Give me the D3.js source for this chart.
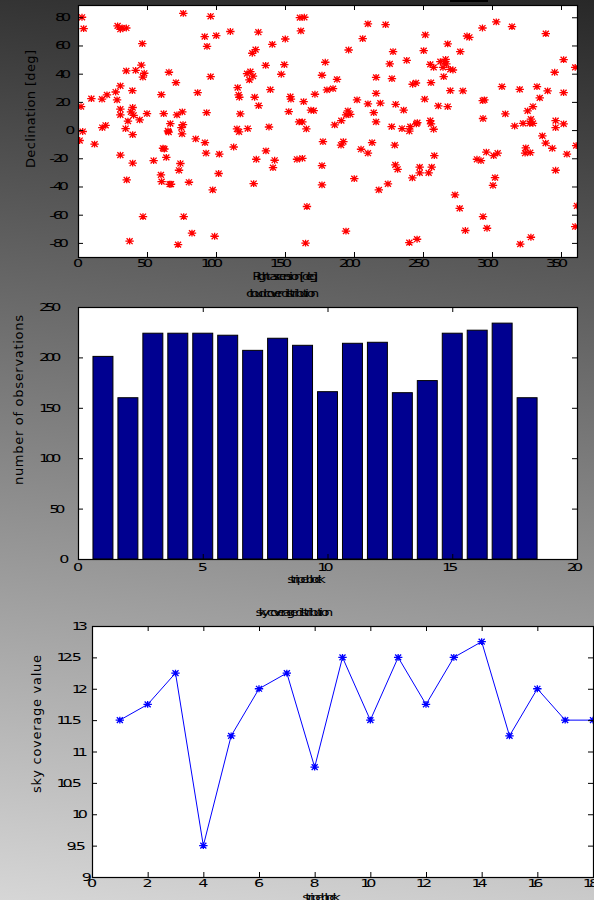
<!DOCTYPE html>
<html>
<head>
<meta charset="utf-8">
<script src="https://cdn.jsdelivr.net/npm/d3@7"></script>
<style>
  html, body { margin: 0; padding: 0; overflow: hidden; }
  svg { display: block; }
</style>
</head>
<body>
<svg id="fig" width="594" height="900"></svg>
<script>
// ---------------------------------------------------------------
// Data
// ---------------------------------------------------------------

// Observed field centres: [right ascension, declination] in degrees
const fieldPositions = [
  [2.9,80.0],[4.1,72],[2.2,16.7],[3.4,-1],[1.2,-7.4],[12,-10],[9.7,22.3],[17.4,22],[21,25],[27.3,27],
  [28.3,21.4],[30.7,31.3],[17.6,1.8],[20,3.4],[28.7,73.9],[30.7,71.5],[32,72.4],[35,72.4],[46.6,61.3],[45.9,46],
  [48,40.3],[47,37.5],[41.8,42.4],[35,42],[39.4,28],[30.7,14.8],[30.7,10.8],[36.2,6.3],[39.6,16],[38.4,12.9],
  [40.3,10.5],[34.5,1.1],[39.6,-3.2],[44.7,7.2],[50,11.7],[30.7,-17.8],[39.6,-23.5],[35.3,-35.3],[47.1,-61.3],[37.4,-78.8],
  [62.1,11.7],[60.4,25.2],[65.9,41],[71,33.7],[76.3,82.8],[75.6,12.9],[71.7,10.8],[66.9,4.6],[65.2,-0.6],[65.7,-1.5],
  [74.9,1.8],[76.1,3.9],[75.4,-2.7],[61.6,-12.9],[62.6,-13.4],[64,-19.3],[54.8,-21.6],[60.1,-31.8],[60.6,-36.5],[66.4,-38.4],
  [67.4,-38.4],[74.2,-23.7],[73.2,-28.5],[80.4,-37],[76.6,-61.3],[82.6,-73.1],[72.5,-81.2],[96.1,80.7],[91.8,66.3],[100.2,67],
  [93.5,59.4],[96.1,37.9],[86.7,26.6],[93.2,12.4],[85.3,-6.3],[92,-8.9],[92.8,-16.4],[102.4,-17.1],[101.9,-30.8],[97.6,-42.4],
  [99,-75.3],[110.4,69.9],[130.7,69.4],[128.7,57.1],[126.3,54.5],[140.8,60.8],[150.2,64.6],[149.5,46.4],[136,45.9],[147.3,39.6],
  [122.5,40],[124.9,41.5],[126.8,38.2],[124.2,35.6],[115.7,30.1],[116.4,24.9],[116.9,23.3],[128,23.3],[139.4,28.7],[130.9,17.4],
  [117.6,11.5],[153.9,23.7],[154.3,22],[152.7,13.1],[115.2,0.8],[116.7,-1.3],[123,1.1],[138.4,2.2],[112.8,-12],[136.2,-14.8],
  [129.2,-20.7],[142.5,-21.4],[141.3,-26.6],[127.3,-37.9],[158.7,-20.7],[160.8,79.8],[161.5,70.3],[160.2,5.8],
  [164,80],[163.5,20.2],[171.7,25.4],[168.8,14.1],[170.8,13.8],[162.6,5.8],[165.5,0.8],[162.6,-20],[165.9,-54.2],[164.9,-80.2],
  [176.8,38.9],[179.2,48.1],[180.4,28.5],[184.8,29.4],[187.7,36],[196.1,56.8],[210.1,75.3],[222.9,74.8],[206.3,64.9],[202.2,21.4],
  [210.1,18.6],[195.6,13.6],[194.3,10.8],[197.3,11.2],[190.8,6.7],[186,3.7],[177.5,-8.2],[192.3,-8.2],[190.6,-10.7],[176.8,-25.2],
  [176.8,-38.9],[200.2,-34.4],[205.1,-13.6],[210.1,-16.4],[213.1,-8.9],[194.2,-71.7],[216,37.4],[216,26.1],[214.3,12.4],[216,5.8],
  [219.1,19.1],[225.9,46.9],[228.3,55.6],[227.5,36.5],[230.2,18.3],[227.3,2.5],[229.5,-10.7],[230,-24.7],[231.6,-27.8],[218,-42.4],
  [224.6,-38.2],[238.2,49.5],[236,14.1],[234.8,1.1],[240.8,2.5],[240.1,-0.8],[245.2,4.4],[245.9,5.3],[242.3,-33.9],[247.6,-26.3],
  [247.6,-30.4],[245.7,-77.4],[240.1,-79.8],[242.5,32.5],[244.9,33.4],[251.7,67.5],[250.5,56.3],[255.3,46.6],[257.7,44.5],[255.8,33.7],
  [251.2,21.9],[255.3,6.7],[255.8,4.4],[257.7,0.6],[258.2,-18.1],[256.3,-26.3],[254.1,-30.4],[261.1,17.1],[264.5,44.5],[265.5,48.5],
  [266.4,50.2],[262.6,48.5],[266.9,46.9],[267.9,61.1],[265,37.9],[269.8,43.1],[271.7,42.6],[267.9,16.7],[269.8,28],[277,55.6],
  [281.9,66.7],[283.6,65.8],[278.9,27.8],[273.2,-46],[276.6,-55.5],[280.7,-71.2],[293.1,72.4],[303.1,76.7],[314.5,73.4],[293.3,20.9],
  [294.5,21.4],[293.5,8.2],[289.1,-20.7],[292,-21.6],[295.9,-15.7],[301.2,-18.1],[304.1,-16.4],[302.2,-33.7],[300.7,-39.2],[293.5,-61.3],
  [296.4,-69.6],[307.2,30.8],[309.7,11.5],[320.1,28.9],[316.4,2.9],[322.5,4.8],[328.2,7.7],[327.3,4.8],[329.7,4.8],[325.8,13.6],
  [329.7,16.7],[334.6,22.8],[332.6,30.8],[340.3,27.8],[324.5,-12.6],[324,-16.4],[327.7,-16],[336.5,-4.1],[338.9,-9.3],[343.7,-12.9],
  [346.1,6.7],[346.1,1.8],[351.9,4.4],[346.1,-28.5],[339,68.4],[351.9,50],[345.4,41],[351.9,26.6],[360.3,44.5],[361,-11],
  [354.3,-17.1],[361.6,-53.8],[360.3,-68.4],[328.2,-76],[320.5,-80.9]
];

// Stripe blocks and their per-block statistics
const stripeBlocks = [1,2,3,4,5,6,7,8,9,10,11,12,13,14,15,16,17,18];
const observationCounts = [201,160,224,224,224,222,207,219,212,166,214,215,165,177,224,227,234,160];
const skyCoverage = [11.5,11.75,12.25,9.5,11.25,12,12.25,10.75,12.5,11.5,12.5,11.75,12.5,12.75,11.25,12,11.5,11.5];

// Tick values
const raTicks = [0,50,100,150,200,250,300,350];
const decTicks = [-80,-60,-40,-20,0,20,40,60,80];
const countTicks = [0,50,100,150,200,250];
const barBlockTicks = [0,5,10,15,20];
const coverageTicks = [9,9.5,10,10.5,11,11.5,12,12.5,13];
const lineBlockTicks = [0,2,4,6,8,10,12,14,16,18];

// Text
const scatterXLabel = "Right ascension [deg]";
const scatterYLabel = "Declination [deg]";
const barTitle = "cloud cover distribution";
const barYLabel = "number of observations";
const blockLabel = "stripe block";
const lineTitle = "sky coverage distribution";
const lineYLabel = "sky coverage value";

// ---------------------------------------------------------------
// Drawing
// ---------------------------------------------------------------
const W = 594, H = 900;
const FONT = "'DejaVu Sans', 'Liberation Sans', sans-serif";
const svg = d3.select("#fig");
const defs = svg.append("defs");

// diagonal grey backdrop
const grad = defs.append("linearGradient").attr("id", "bg")
  .attr("gradientUnits", "userSpaceOnUse")
  .attr("x1", 594).attr("y1", 0).attr("x2", 488).attr("y2", 954);
grad.append("stop").attr("offset", 0).attr("stop-color", "rgb(40,40,40)");
grad.append("stop").attr("offset", 1).attr("stop-color", "rgb(214,214,214)");
svg.append("rect").attr("width", W).attr("height", H).attr("fill", "url(#bg)");
svg.append("rect").attr("x", 450).attr("y", 0).attr("width", 38).attr("height", 2).attr("fill", "#000");

// Text drawn with wide glyphs on a tight advance (the figure's packed lettering)
function packedText(parent, str, x, y, opt) {
  const o = Object.assign({ size: 11, stretch: 1.45, adv: 0.87, layout: 1.45, anchor: "start", weight: "normal" }, opt);
  const t = parent.append("text")
    .attr("font-family", FONT).attr("font-size", o.size).attr("font-weight", o.weight).attr("fill", "#000")
    .text(str);
  const node = t.node();
  const adv = [];
  for (let i = 0; i < str.length; i++) adv.push(node.getSubStringLength(i, 1));
  const total = d3.sum(adv);
  const layoutW = total * o.layout;
  const start = x - (o.anchor === "middle" ? layoutW / 2 : o.anchor === "end" ? layoutW : 0);
  const xs = [];
  let cx = 0;
  for (let i = 0; i < str.length; i++) { xs.push(cx.toFixed(2)); cx += adv[i] * o.adv / o.stretch; }
  t.attr("x", xs.join(" ")).attr("y", 0)
   .attr("transform", `translate(${start},${y}) scale(${o.stretch},1)`);
  return t;
}
const LABEL = { stretch: 1.3, adv: 0.52, layout: 1.25, anchor: "middle" };

function verticalLabel(str, x, yBottom, len) {
  svg.append("text")
    .attr("font-family", FONT).attr("font-size", 13).attr("fill", "#000")
    .attr("transform", `translate(${x},${yBottom}) rotate(-90)`)
    .attr("textLength", len).attr("lengthAdjust", "spacing")
    .text(str);
}

// asterisk marker
function asterisk(cx, cy, rx, ry) {
  const dx = rx * 0.72, dy = ry * 0.85;
  return `M${cx - rx},${cy}H${cx + rx}M${cx},${cy - ry}V${cy + ry}` +
         `M${cx - dx},${cy - dy}L${cx + dx},${cy + dy}M${cx - dx},${cy + dy}L${cx + dx},${cy - dy}`;
}

// white plot area, clip, ticks on all four sides and frame
function makePanel(id, box, x, y, xTicks, yTicks) {
  svg.append("rect").attr("x", box.l).attr("y", box.t)
    .attr("width", box.r - box.l).attr("height", box.b - box.t).attr("fill", "#fff");
  defs.append("clipPath").attr("id", id).append("rect")
    .attr("x", box.l).attr("y", box.t).attr("width", box.r - box.l + 1).attr("height", box.b - box.t + 1);
  const plot = svg.append("g").attr("clip-path", `url(#${id})`);
  const frame = () => {
    const ax = (gen, tx, ty) => {
      const g = svg.append("g").attr("transform", `translate(${tx},${ty})`).call(gen);
      g.select(".domain").remove();
      g.selectAll("line").attr("stroke", "#000");
    };
    ax(d3.axisBottom(x).tickValues(xTicks).tickSize(-5).tickFormat(""), 0, box.b);
    ax(d3.axisTop(x).tickValues(xTicks).tickSize(-5).tickFormat(""), 0, box.t);
    ax(d3.axisLeft(y).tickValues(yTicks).tickSize(-5).tickFormat(""), box.l, 0);
    ax(d3.axisRight(y).tickValues(yTicks).tickSize(-5).tickFormat(""), box.r, 0);
    svg.append("rect").attr("x", box.l + 0.5).attr("y", box.t + 0.5)
      .attr("width", box.r - box.l).attr("height", box.b - box.t)
      .attr("fill", "none").attr("stroke", "#000").attr("stroke-width", 1.2);
  };
  return { plot, frame };
}

// ---------- 1. sky positions ----------
{
  const box = { l: 78, r: 577, t: 5, b: 257 };
  const x = d3.scaleLinear().domain([0, 361.6]).range([box.l, box.r]);
  const y = d3.scaleLinear().domain([-90, 88.7]).range([box.b, box.t]);
  const p = makePanel("clipSky", box, x, y, raTicks, decTicks);
  p.plot.append("path")
    .attr("d", fieldPositions.map(d => asterisk(x(d[0]), y(d[1]), 4.2, 3.4)).join(""))
    .attr("fill", "none").attr("stroke", "#ff0000").attr("stroke-width", 1.3);
  p.frame();
  decTicks.forEach(v => packedText(svg, String(v), 75.3, y(v) + 4, { anchor: "end" }));
  raTicks.forEach(v => packedText(svg, String(v), x(v), 267, { anchor: "middle" }));
  packedText(svg, scatterXLabel, (box.l + box.r) / 2, 280, LABEL);
  verticalLabel(scatterYLabel, 34.5, 168, 118);
}

// ---------- 2. observations per stripe block ----------
{
  const box = { l: 78, r: 577, t: 307, b: 559 };
  const x = d3.scaleLinear().domain([0, 20]).range([box.l, box.r]);
  const y = d3.scaleLinear().domain([0, 250]).range([box.b, box.t]);
  const p = makePanel("clipBar", box, x, y, barBlockTicks, countTicks);
  p.plot.selectAll("rect.bar").data(stripeBlocks).join("rect")
    .attr("class", "bar")
    .attr("x", d => x(d - 0.4))
    .attr("width", d => x(d + 0.4) - x(d - 0.4))
    .attr("y", (d, i) => y(observationCounts[i]))
    .attr("height", (d, i) => y(0) - y(observationCounts[i]))
    .attr("fill", "#000090").attr("stroke", "#000").attr("stroke-width", 1);
  p.frame();
  packedText(svg, barTitle, (box.l + box.r) / 2, 297, LABEL);
  countTicks.forEach(v => packedText(svg, String(v), 69.5, y(v) + 4, { anchor: "end" }));
  barBlockTicks.forEach(v => packedText(svg, String(v), x(v), 570.5, { anchor: "middle" }));
  packedText(svg, blockLabel, (box.l + box.r) / 2, 583, LABEL);
  verticalLabel(barYLabel, 23, 485, 170);
}

// ---------- 3. sky coverage per stripe block ----------
{
  const box = { l: 92, r: 593, t: 626, b: 877 };
  const x = d3.scaleLinear().domain([0, 18]).range([box.l, box.r]);
  const y = d3.scaleLinear().domain([9, 13]).range([box.b, box.t]);
  const p = makePanel("clipLine", box, x, y, lineBlockTicks, coverageTicks);
  const line = d3.line().x(d => x(d[0])).y(d => y(d[1]));
  const pts = stripeBlocks.map((b, i) => [b, skyCoverage[i]]);
  p.plot.append("path").attr("d", line(pts))
    .attr("fill", "none").attr("stroke", "#0000ff").attr("stroke-width", 1);
  p.plot.append("path")
    .attr("d", pts.map(d => asterisk(x(d[0]), y(d[1]), 4.2, 3.4)).join(""))
    .attr("fill", "none").attr("stroke", "#0000ff").attr("stroke-width", 1.3);
  p.frame();
  packedText(svg, lineTitle, (box.l + box.r) / 2, 616, LABEL);
  coverageTicks.forEach(v => packedText(svg, String(v), 92, y(v) + 4, { anchor: "end" }));
  lineBlockTicks.forEach(v => packedText(svg, String(v), x(v), 887, { anchor: "middle" }));
  packedText(svg, blockLabel, (box.l + box.r) / 2, 901, LABEL);
  verticalLabel(lineYLabel, 41, 793, 138);
}
</script>
</body>
</html>
